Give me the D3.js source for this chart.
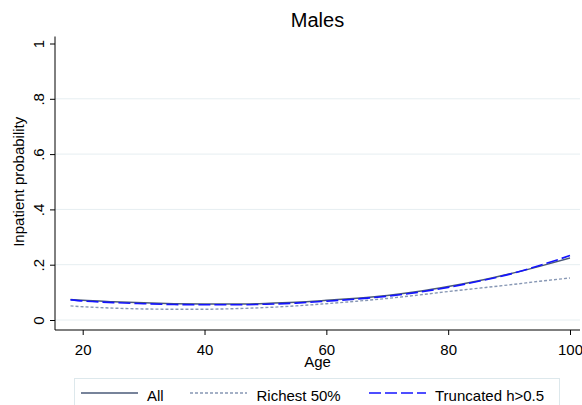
<!DOCTYPE html>
<html>
<head>
<meta charset="utf-8">
<script src="https://cdn.jsdelivr.net/npm/d3@7"></script>
<style>
  html, body { margin: 0; padding: 0; background: #fff; }
  svg { display: block; font-family: "Liberation Sans", Arial, sans-serif; }
</style>
</head>
<body>
<svg id="chart" width="582" height="405"></svg>
<script>
// Fitted inpatient probability by age, males
const ages = [18, 20, 25, 30, 35, 40, 45, 50, 55, 60, 65, 70, 75, 80, 85, 90, 95, 100];
const allValues = [0.074, 0.071, 0.066, 0.062, 0.059, 0.058, 0.058, 0.060, 0.064, 0.071, 0.079, 0.089, 0.103, 0.121, 0.142, 0.166, 0.194, 0.224];
const richestValues = [0.051, 0.048, 0.043, 0.040, 0.039, 0.039, 0.041, 0.045, 0.051, 0.059, 0.068, 0.078, 0.090, 0.103, 0.115, 0.127, 0.140, 0.152];
const truncatedValues = [0.073, 0.069, 0.063, 0.059, 0.056, 0.055, 0.055, 0.057, 0.061, 0.068, 0.076, 0.086, 0.100, 0.118, 0.140, 0.165, 0.197, 0.233];
const xTicks = [20, 40, 60, 80, 100];
const yTicks = [0, 0.2, 0.4, 0.6, 0.8, 1];
const yTickLabels = ["0", ".2", ".4", ".6", ".8", "1"];
const seriesNames = ["All", "Richest 50%", "Truncated h>0.5"];

const series = [
  { name: seriesNames[0], values: allValues, color: "#4a5a78", width: 1.5, dash: null },
  { name: seriesNames[1], values: richestValues, color: "#8797b4", width: 1.4, dash: "3,2" },
  { name: seriesNames[2], values: truncatedValues, color: "#1414ff", width: 1.6, dash: "12,4" }
];

const svg = d3.select("#chart");
const plotLeft = 55, plotRight = 580, axisY = 330;
const plotCenter = (plotLeft + plotRight) / 2;

const x = d3.scaleLinear().domain([20, 100]).range([82.7, 570]);
const y = d3.scaleLinear().domain([0, 1]).range([320, 43.5]);

// Title
svg.append("text").attr("x", plotCenter).attr("y", 26.5).attr("text-anchor", "middle")
  .attr("font-size", 20).attr("fill", "#000").text("Males");

// Grid lines
svg.append("g").selectAll("line").data(yTicks.slice(0, 5)).join("line")
  .attr("x1", plotLeft).attr("x2", plotRight)
  .attr("y1", d => y(d)).attr("y2", d => y(d))
  .attr("stroke", "#e6eef1").attr("stroke-width", 1);

// Y axis with rotated tick labels
const yAxis = d3.axisLeft(y).tickValues(yTicks).tickSize(5)
  .tickFormat((d, i) => yTickLabels[i]);
const gy = svg.append("g").attr("transform", `translate(${plotLeft},0)`).call(yAxis);
gy.attr("font-family", null);
gy.select(".domain").attr("d", `M0,${y(1) - 7}V${axisY}`).attr("stroke", "#000");
gy.selectAll(".tick line").attr("stroke", "#000");
gy.selectAll(".tick text")
  .attr("font-size", 15).attr("fill", "#000")
  .attr("text-anchor", "middle")
  .attr("x", 0).attr("y", 0).attr("dy", null)
  .attr("transform", "translate(-11.5,0) rotate(-90)");

// Y label
svg.append("text").attr("transform", `translate(24,${(y(0) + y(1)) / 2}) rotate(-90)`)
  .attr("text-anchor", "middle").attr("font-size", 15).attr("fill", "#000")
  .text("Inpatient probability");

// X axis
const xAxis = d3.axisBottom(x).tickValues(xTicks).tickSize(5).tickFormat(d3.format("d"));
const gx = svg.append("g").attr("transform", `translate(0,${axisY})`).call(xAxis);
gx.attr("font-family", null);
gx.select(".domain").attr("d", `M${plotLeft},0H${plotRight}`).attr("stroke", "#000");
gx.selectAll(".tick line").attr("stroke", "#000");
gx.selectAll(".tick text").attr("font-size", 15).attr("fill", "#000")
  .attr("y", 14).attr("dy", "0.71em");

svg.append("text").attr("x", plotCenter).attr("y", 366.5).attr("text-anchor", "middle")
  .attr("font-size", 15).attr("fill", "#000").text("Age");

// Curves
const line = d3.line().x((d, i) => x(ages[i])).y(d => y(d)).curve(d3.curveMonotoneX);
svg.append("g").selectAll("path").data(series).join("path")
  .attr("d", d => line(d.values))
  .attr("fill", "none")
  .attr("stroke", d => d.color)
  .attr("stroke-width", d => d.width)
  .attr("stroke-dasharray", d => d.dash);

// Legend
const legend = svg.append("g");
legend.append("rect").attr("x", 74.5).attr("y", 378.5).attr("width", 485).attr("height", 40)
  .attr("fill", "#fff").attr("stroke", "#dde8ec");
const legendX = [81, 190, 369];
const legendTextX = [147, 256.5, 435];
series.forEach((s, i) => {
  legend.append("line").attr("x1", legendX[i]).attr("x2", legendX[i] + 57)
    .attr("y1", 393).attr("y2", 393)
    .attr("stroke", s.color).attr("stroke-width", s.width).attr("stroke-dasharray", s.dash);
  legend.append("text").attr("x", legendTextX[i]).attr("y", 400.5)
    .attr("font-size", 15).attr("fill", "#000").text(s.name);
});
</script>
</body>
</html>
